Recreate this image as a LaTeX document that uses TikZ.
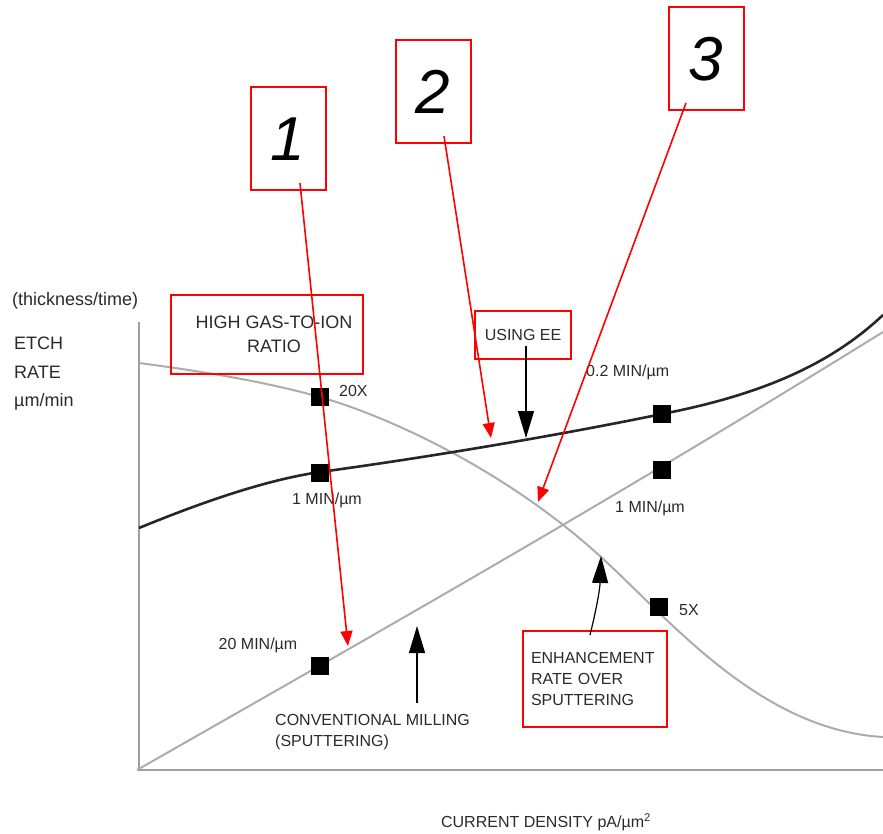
\documentclass[tikz,border=0pt]{standalone}
\usepackage{fontspec}
\setmainfont{Liberation Sans}
\usetikzlibrary{arrows.meta}
\definecolor{txt}{HTML}{2A2A2A}
\begin{document}
\begin{tikzpicture}[x=1pt,y=-1pt,
  lbl/.style={font=\fontsize{16}{21}\selectfont, text=txt, inner sep=0pt},
  biglbl/.style={font=\fontsize{18}{24}\selectfont, text=txt, inner sep=0pt},
  sq/.style={fill=black, minimum size=18pt, inner sep=0pt},
  redbox/.style={draw=red, line width=2pt},
  numbox/.style={redbox, minimum width=75pt, minimum height=103pt, inner sep=0pt, font=\fontsize{62}{62}\selectfont\itshape},
  redarrow/.style={red, line width=1.6pt, -{Triangle[length=15pt,width=12pt]}},
  blkarrow/.style={black, line width=1.2pt, -{Triangle[length=27pt,width=16pt]}},
  graycurve/.style={gray!65, line width=2pt},
  eecurve/.style={black!85, line width=2.6pt},
  axisline/.style={gray!75, line width=2pt}]
\useasboundingbox (0,0) rectangle (883,834);

% axes
\coordinate (ytop) at (139,322);
\coordinate (orig) at (139,770);
\coordinate (xend) at (883,770);
\draw[axisline] (ytop) -- (orig) -- (xend);

% curves
\draw[graycurve] (139,363) .. controls (230,375) and (280,386) .. (320,397)
  .. controls (380,414) and (500,465) .. (601,557)
  .. controls (670,620) and (760,730) .. (883,737);
\draw[graycurve] (137,770) .. controls (400,620) and (620,495) .. (883,332);
\draw[eecurve] (139,528) .. controls (200,503) and (265,480) .. (320,472)
  .. controls (430,457) and (560,435) .. (662,414)
  .. controls (760,395) and (830,365) .. (883,315);

% squares
\node[sq] (s20x) at (320,397) {};
\node[sq] (s1min) at (320,473) {};
\node[sq] (s20min) at (320,666) {};
\node[sq] (s02min) at (662,414) {};
\node[sq] (s1minr) at (662,470) {};
\node[sq] (s5x) at (659,607) {};

% axis labels
\node[biglbl, anchor=west] (thick) at (12,301) {(thickness/time)};
\node[biglbl, anchor=west] (etch) at (14,343) {ETCH};
\node[biglbl, anchor=west] (rate) at (14,372) {RATE};
\node[biglbl, anchor=west] (umin) at (14,402) {µm/min};
\node[lbl] (xlab) at (546,822) {CURRENT DENSITY pA/µm\textsuperscript{2}};

% point labels
\node[lbl, anchor=west] (l20x) at (339,391) {20X};
\node[lbl] (l1min) at (327,500) {1 MIN/µm};
\node[lbl, anchor=west] (l02min) at (586,372) {0.2 MIN/µm};
\node[lbl] (l1minr) at (650,508) {1 MIN/µm};
\node[lbl] (l20min) at (258,645) {20 MIN/µm};
\node[lbl, anchor=west] (l5x) at (679,610) {5X};

% boxed labels
\node[redbox, biglbl, align=center, minimum width=192pt, minimum height=79pt] (gas) at (267,334.5) {\hspace*{14pt}HIGH GAS-TO-ION\\\hspace*{14pt}RATIO};
\node[redbox, lbl, minimum width=96pt, minimum height=48pt] (ee) at (523,335) {USING EE};
\node[redbox, lbl, align=left, text width=128pt, inner sep=8pt, minimum height=96pt] (enh) at (595,679) {ENHANCEMENT\\RATE OVER\\SPUTTERING};
\node[lbl, align=left, anchor=west] (mill) at (275,732) {CONVENTIONAL MILLING\\(SPUTTERING)};

% black arrows
\coordinate (eetip) at (526,438);
\coordinate (millstart) at (417,703);
\coordinate (milltip) at (417,626);
\coordinate (enhstart) at (590,635);
\coordinate (enhtip) at (601,556);
\draw[blkarrow] (ee.south -| eetip) ++(0,-14) -- (eetip);
\draw[blkarrow] (millstart) -- (milltip);
\draw[blkarrow] (enhstart) to[bend right=6] (enhtip);

% numbered callouts
\node[numbox] (n1) at (288,139) {1};
\node[numbox] (n2) at (433,92) {2};
\node[numbox] (n3) at (706,59) {3};
\coordinate (r1s) at (300,183);
\coordinate (r2s) at (444,136);
\coordinate (r3s) at (686,103);
\coordinate (r1t) at (348,646);
\coordinate (r2t) at (491,438);
\coordinate (r3t) at (538,502);
\draw[redarrow] (r1s) -- (r1t);
\draw[redarrow] (r2s) -- (r2t);
\draw[redarrow] (r3s) -- (r3t);
\end{tikzpicture}
\end{document}
